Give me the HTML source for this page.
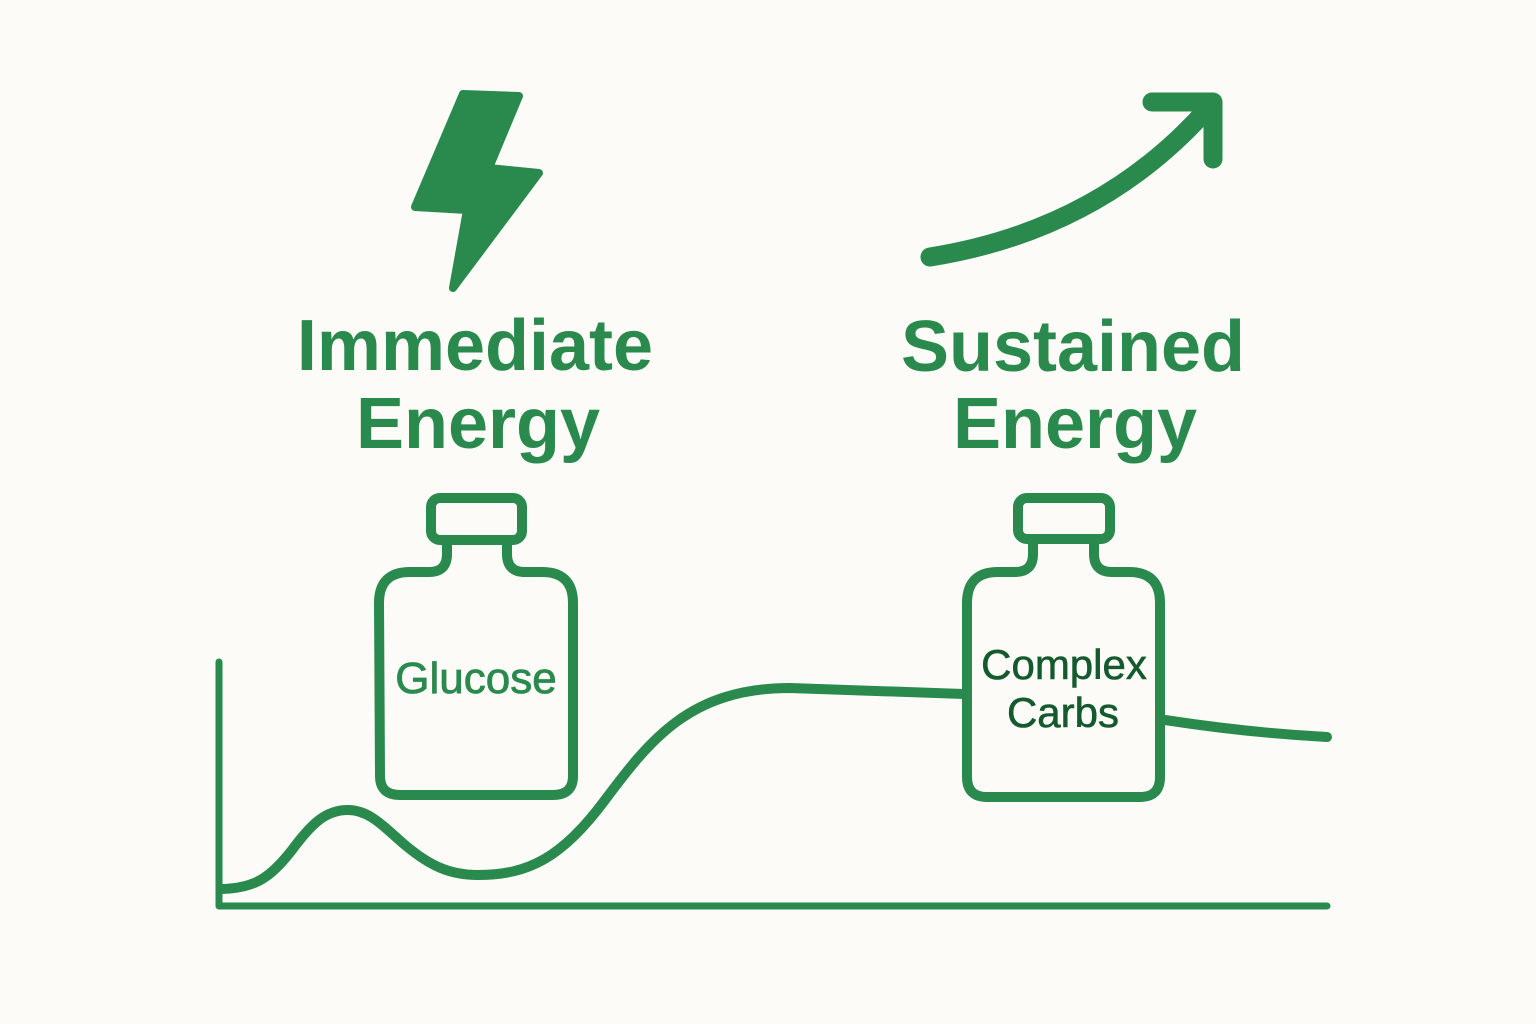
<!DOCTYPE html>
<html>
<head>
<meta charset="utf-8">
<style>
  html,body{margin:0;padding:0;background:#fcfbf7;}
  svg{display:block;}
</style>
</head>
<body>
<svg width="1536" height="1024" viewBox="0 0 1536 1024" xmlns="http://www.w3.org/2000/svg">
  <rect width="1536" height="1024" fill="#fcfbf7"/>

  <!-- Lightning bolt -->
  <polygon points="463,94 519,96 489,168 539,173 453,288 467,210 415,207"
           fill="#2a8a4e" stroke="#2a8a4e" stroke-width="8" stroke-linejoin="round"/>

  <!-- Rising arrow -->
  <g fill="none" stroke="#2a8a4e" stroke-width="19" stroke-linecap="round" stroke-linejoin="round">
    <path d="M930,257 Q1100,230 1208,108"/>
    <path d="M1152,102 L1213,102 L1213,159"/>
  </g>

  <!-- Titles -->
  <g font-family="'Liberation Sans', Arial, sans-serif" font-weight="bold" font-size="72" fill="#2a8a4e" text-anchor="middle">
    <text x="475" y="370">Immediate</text>
    <text x="478" y="448">Energy</text>
    <text x="1073" y="371">Sustained</text>
    <text x="1075" y="448">Energy</text>
  </g>

  <!-- Axes -->
  <g fill="none" stroke="#2a8a4e" stroke-width="7" stroke-linecap="round" stroke-linejoin="round">
    <path d="M219,662 L219,906 L1327,906"/>
  </g>

  <!-- Energy curve -->
  <g fill="none" stroke="#2a8a4e" stroke-width="10" stroke-linecap="round" stroke-linejoin="round">
    <path d="M222,889 C255,888 270,878 292,850 C312,823 326,810 348,810 C370,810 385,828 405,845 C430,866 450,875 478,875 C528,875 562,858 605,800 C650,740 690,688 790,688 L964,694"/>
    <path d="M1165,720 Q1250,733 1327,737"/>
  </g>

  <!-- Glucose bottle -->
  <g fill="none" stroke="#2a8a4e" stroke-width="10" stroke-linecap="round" stroke-linejoin="round">
    <rect x="431" y="498" width="91" height="42" rx="9"/>
    <path d="M447,540 L447,554 Q447,572 429,572 L410,572 Q379,572 379,603 L380,776 Q380,795 400,795 L553,795 Q573,795 573,776 L573,603 Q573,572 542,572 L525,572 Q507,572 507,554 L507,540"/>
  </g>
  <text x="476" y="693" font-family="'Liberation Sans', Arial, sans-serif" font-size="44" fill="#2a8a4e" text-anchor="middle" stroke="#2a8a4e" stroke-width="0.8">Glucose</text>

  <!-- Complex Carbs bottle -->
  <g fill="none" stroke="#2a8a4e" stroke-width="10" stroke-linecap="round" stroke-linejoin="round">
    <rect x="1018" y="498" width="92" height="41" rx="9"/>
    <path d="M1033,539 L1033,554 Q1033,572 1015,572 L998,572 Q967,572 967,603 L967,777 Q967,797 987,797 L1140,797 Q1160,797 1160,777 L1160,603 Q1160,572 1129,572 L1112,572 Q1094,572 1094,554 L1094,539"/>
  </g>
  <g font-family="'Liberation Sans', Arial, sans-serif" font-size="42" fill="#145a2e" text-anchor="middle" stroke="#145a2e" stroke-width="0.6">
    <text x="1064" y="679">Complex</text>
    <text x="1063" y="727">Carbs</text>
  </g>
</svg>
</body>
</html>
